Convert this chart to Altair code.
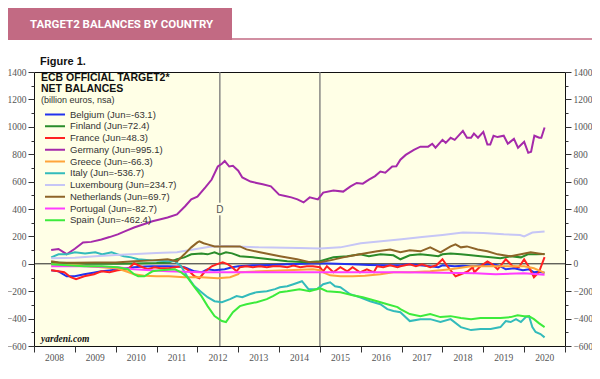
import altair as alt
import pandas as pd

COUNTRIES = ["Belgium", "Finland", "France", "Germany", "Greece", "Italy",
             "Luxembourg", "Netherlands", "Portugal", "Spain"]
LATEST = [-63.1, 72.4, 48.3, 995.1, -66.3, -536.7, 234.7, 69.7, -82.7, -462.4]
COLORS = ["#2233EE", "#2A8C2A", "#FF2222", "#A52AAA", "#FFA53A", "#33BBBB",
          "#C6C6F6", "#8E6428", "#FF3CFF", "#3CEB3C"]

BELGIUM = [(2008.42, -47), (2008.6, -55), (2008.8, -91), (2009.0, -90), (2009.23, -76), (2009.45, -65),
           (2009.65, -55), (2009.85, -48), (2010.05, -40), (2010.25, -32), (2010.45, -25), (2010.7, -20),
           (2010.9, -18), (2011.27, -18), (2011.5, -20), (2011.68, -25), (2011.8, -40), (2011.93, -55),
           (2012.1, -62), (2012.25, -40), (2012.42, -47), (2012.67, -40), (2012.85, -25), (2013.0, -18),
           (2013.36, -11), (2013.8, -8), (2014.2, -4), (2014.6, 0), (2015.0, 4), (2015.4, 0), (2015.8, -4),
           (2016.2, -8), (2016.65, -11), (2017.0, -8), (2017.2, -4), (2017.45, -10), (2017.7, -18),
           (2017.9, -25), (2018.0, -11), (2018.3, -18), (2018.5, -15), (2018.77, -18), (2018.95, -11),
           (2019.25, -4), (2019.42, -18), (2019.55, -40), (2019.75, -33), (2019.97, -47), (2020.12, -40),
           (2020.24, -62), (2020.35, -58), (2020.5, -66)]
FINLAND = [(2008.42, 11), (2008.8, 5), (2009.2, 0), (2009.6, 2), (2010.0, 0), (2010.5, 3), (2011.0, 5),
           (2011.3, 10), (2011.5, 33), (2011.68, 47), (2011.85, 69), (2012.1, 76), (2012.25, 69),
           (2012.42, 84), (2012.55, 69), (2012.7, 84), (2012.85, 76), (2013.04, 55), (2013.36, 47),
           (2013.77, 33), (2014.2, 18), (2014.68, 11), (2015.0, 18), (2015.33, 47), (2015.67, 55),
           (2015.98, 69), (2016.2, 55), (2016.48, 69), (2016.8, 62), (2016.97, 33), (2017.2, 62),
           (2017.46, 69), (2017.7, 62), (2017.9, 55), (2018.0, 69), (2018.2, 76), (2018.45, 69),
           (2018.7, 62), (2018.93, 55), (2019.18, 47), (2019.42, 40), (2019.67, 55), (2019.92, 47),
           (2020.09, 69), (2020.3, 69), (2020.5, 72)]
FRANCE = [(2008.42, -47), (2008.6, -55), (2008.74, -62), (2008.9, -98), (2009.03, -113), (2009.23, -91),
          (2009.47, -76), (2009.65, -55), (2009.85, -62), (2010.05, -47), (2010.3, -40), (2010.45, 4),
          (2010.6, -18), (2010.78, -40), (2010.95, -25), (2011.1, -33), (2011.3, -33), (2011.45, -25),
          (2011.6, -18), (2011.75, -40), (2011.93, -91), (2012.05, -105), (2012.17, -62), (2012.35, -18),
          (2012.47, -4), (2012.62, 11), (2012.75, -4), (2012.85, -25), (2012.96, -55), (2013.04, -25),
          (2013.2, -18), (2013.36, -25), (2013.53, -18), (2013.7, -25), (2013.85, -18), (2014.02, -18),
          (2014.2, -25), (2014.35, -12), (2014.52, -25), (2014.68, -18), (2014.83, -18), (2015.0, -25),
          (2015.08, -55), (2015.17, -18), (2015.33, -62), (2015.5, -25), (2015.67, -55), (2015.8, -25),
          (2015.98, -62), (2016.15, -40), (2016.32, -62), (2016.4, -18), (2016.55, -25), (2016.72, -11),
          (2016.9, -25), (2016.97, -18), (2017.2, -4), (2017.35, -18), (2017.5, -4), (2017.7, -25),
          (2017.85, -11), (2018.0, 33), (2018.12, -18), (2018.32, -91), (2018.45, -76), (2018.62, -55),
          (2018.74, -25), (2018.78, -62), (2018.93, -18), (2019.1, 18), (2019.22, -4), (2019.35, -40),
          (2019.55, 33), (2019.72, -18), (2019.87, -25), (2020.0, 33), (2020.12, -25), (2020.24, -98),
          (2020.36, -62), (2020.5, 48)]
GERMANY = [(2008.42, 100), (2008.6, 108), (2008.8, 70), (2009.0, 110), (2009.2, 155), (2009.4, 160),
           (2009.65, 178), (2009.85, 195), (2010.05, 215), (2010.25, 240), (2010.45, 265), (2010.65, 285),
           (2010.9, 310), (2011.1, 325), (2011.27, 338), (2011.5, 360), (2011.7, 420), (2011.85, 470),
           (2012.0, 490), (2012.2, 560), (2012.35, 615), (2012.5, 710), (2012.6, 730), (2012.67, 750),
           (2012.78, 710), (2012.87, 715), (2013.0, 680), (2013.1, 630), (2013.3, 600), (2013.45, 590),
           (2013.6, 580), (2013.8, 565), (2014.0, 505), (2014.15, 495), (2014.3, 485), (2014.45, 470),
           (2014.6, 448), (2014.75, 485), (2014.95, 470), (2015.08, 520), (2015.33, 535), (2015.57, 527),
           (2015.75, 565), (2015.9, 590), (2016.05, 585), (2016.2, 615), (2016.35, 640), (2016.48, 673),
           (2016.6, 665), (2016.77, 710), (2016.87, 712), (2016.97, 760), (2017.1, 795), (2017.3, 832),
           (2017.46, 855), (2017.65, 855), (2017.75, 876), (2017.83, 848), (2018.0, 905), (2018.08, 883),
           (2018.2, 920), (2018.3, 905), (2018.5, 970), (2018.6, 920), (2018.7, 920), (2018.77, 950),
           (2018.87, 920), (2019.0, 963), (2019.1, 870), (2019.17, 870), (2019.25, 935), (2019.35, 925),
           (2019.5, 935), (2019.6, 876), (2019.75, 912), (2019.85, 847), (2020.0, 890), (2020.1, 810),
           (2020.17, 818), (2020.25, 935), (2020.37, 920), (2020.42, 920), (2020.5, 995)]
GREECE = [(2008.42, -4), (2008.8, -8), (2009.2, -15), (2009.5, -22), (2009.8, -28), (2010.05, -35),
          (2010.3, -60), (2010.45, -76), (2010.7, -88), (2011.0, -90), (2011.3, -91), (2011.68, -98),
          (2012.1, -98), (2012.5, -105), (2012.8, -98), (2013.0, -75), (2013.04, -62), (2013.53, -55),
          (2014.2, -47), (2014.83, -40), (2015.0, -47), (2015.08, -62), (2015.25, -84), (2015.5, -91),
          (2015.8, -91), (2016.1, -88), (2016.48, -76), (2016.8, -62), (2017.2, -62), (2017.7, -55),
          (2018.2, -40), (2018.7, -18), (2019.18, -18), (2019.67, -18), (2020.0, -18), (2020.24, -33),
          (2020.5, -66)]
ITALY = [(2008.42, 47), (2008.6, 69), (2008.8, 69), (2009.0, 84), (2009.25, 76), (2009.5, 84), (2009.68, 69),
         (2009.9, 84), (2010.05, 69), (2010.2, 55), (2010.38, 47), (2010.55, 33), (2010.9, 25), (2011.27, 18),
         (2011.45, 18), (2011.6, -18), (2011.75, -91), (2011.93, -164), (2012.1, -207), (2012.25, -244),
         (2012.42, -273), (2012.6, -280), (2012.8, -258), (2012.96, -236), (2013.1, -244), (2013.28, -222),
         (2013.45, -207), (2013.7, -200), (2013.9, -185), (2014.02, -171), (2014.2, -164), (2014.35, -149),
         (2014.56, -127), (2014.72, -185), (2014.93, -185), (2015.08, -149), (2015.25, -135), (2015.37, -164),
         (2015.5, -171), (2015.74, -222), (2015.98, -244), (2016.23, -273), (2016.48, -295), (2016.65, -331),
         (2016.8, -345), (2016.97, -353), (2017.2, -418), (2017.46, -404), (2017.7, -404), (2017.95, -425),
         (2018.2, -404), (2018.45, -462), (2018.7, -484), (2018.93, -476), (2019.18, -476), (2019.42, -462),
         (2019.55, -418), (2019.67, -425), (2019.8, -404), (2019.92, -425), (2020.04, -389), (2020.12, -382),
         (2020.2, -462), (2020.28, -498), (2020.4, -513), (2020.5, -537)]
LUXEMBOURG = [(2008.42, 40), (2009.0, 45), (2009.5, 55), (2010.0, 65), (2010.5, 72), (2011.0, 78),
              (2011.5, 85), (2011.9, 105), (2012.3, 125), (2012.7, 130), (2013.5, 120), (2014.5, 115),
              (2015.0, 112), (2015.5, 120), (2016.0, 150), (2016.5, 165), (2017.0, 180), (2017.5, 195),
              (2018.0, 210), (2018.5, 228), (2019.0, 225), (2019.5, 215), (2019.9, 210), (2020.0, 200),
              (2020.2, 228), (2020.5, 235)]
NETHERLANDS = [(2008.42, 18), (2008.6, 10), (2009.0, 8), (2009.5, 10), (2010.0, 10), (2010.45, 18),
               (2010.9, 25), (2011.27, 33), (2011.5, 18), (2011.68, 69), (2011.85, 120), (2012.0, 156),
               (2012.05, 164), (2012.15, 150), (2012.25, 142), (2012.42, 127), (2012.55, 127), (2013.04, 127),
               (2013.2, 105), (2013.53, 84), (2014.02, 55), (2014.44, 33), (2014.75, 11), (2015.0, 11),
               (2015.25, 25), (2015.57, 47), (2015.98, 69), (2016.4, 91), (2016.72, 105), (2016.97, 84),
               (2017.2, 98), (2017.46, 91), (2017.7, 120), (2017.95, 84), (2018.2, 127), (2018.32, 142),
               (2018.45, 120), (2018.6, 127), (2018.86, 105), (2019.1, 91), (2019.35, 69), (2019.67, 55),
               (2019.92, 69), (2020.16, 84), (2020.35, 76), (2020.5, 70)]
PORTUGAL = [(2008.42, -18), (2009.2, -18), (2010.05, -25), (2010.45, -40), (2011.27, -55), (2012.1, -62),
            (2013.0, -62), (2014.0, -62), (2015.0, -62), (2016.0, -62), (2017.0, -62), (2018.0, -66),
            (2018.8, -69), (2019.3, -76), (2020.0, -69), (2020.5, -80)]
SPAIN = [(2008.42, -4), (2008.8, -11), (2009.23, -18), (2009.65, -18), (2010.05, -25), (2010.3, -40),
         (2010.45, -76), (2010.55, -91), (2010.7, -91), (2010.9, -55), (2011.1, -47), (2011.45, -40),
         (2011.6, -62), (2011.75, -98), (2011.93, -171), (2012.1, -236), (2012.25, -309), (2012.42, -382),
         (2012.6, -418), (2012.7, -425), (2012.87, -353), (2013.04, -309), (2013.2, -295), (2013.45, -280),
         (2013.7, -258), (2013.85, -236), (2014.02, -207), (2014.2, -200), (2014.5, -185), (2014.75, -200),
         (2015.0, -178), (2015.17, -200), (2015.5, -207), (2015.8, -229), (2016.05, -244), (2016.4, -273),
         (2016.65, -295), (2016.9, -316), (2016.97, -331), (2017.2, -367), (2017.46, -382), (2017.7, -367),
         (2017.95, -389), (2018.2, -382), (2018.45, -396), (2018.7, -404), (2018.93, -396), (2019.18, -396),
         (2019.42, -396), (2019.67, -389), (2019.84, -375), (2020.0, -382), (2020.12, -382), (2020.24, -404),
         (2020.36, -433), (2020.5, -462)]

SERIES = [BELGIUM, FINLAND, FRANCE, GERMANY, GREECE, ITALY, LUXEMBOURG, NETHERLANDS, PORTUGAL, SPAIN]

EVENTS = [2012.55, 2015.0]
EVENT_LABELS = ["D", ""]
YEARS = list(range(2008, 2022))
Y_TICKS = list(range(-600, 1401, 100))

rows = []
for name, pts in zip(COUNTRIES, SERIES):
    for t, v in pts:
        rows.append({"country": name, "t": t, "v": v})
df = pd.DataFrame(rows)

leg = pd.DataFrame({"country": COUNTRIES,
                    "label": [f"{c} (Jun={v})" for c, v in zip(COUNTRIES, LATEST)],
                    "idx": list(range(len(COUNTRIES)))})
ev = pd.DataFrame({"t": EVENTS, "label": EVENT_LABELS})

BG = "#FFFFE6"
PINK = "#C26A83"
xs = alt.Scale(domain=[2008, 2021], nice=False, zero=False)
ys = alt.Scale(domain=[-600, 1400], nice=False, zero=False)
color = alt.Color("country:N", scale=alt.Scale(domain=COUNTRIES, range=COLORS), legend=None)


def y_axis(orient):
    return alt.Axis(orient=orient, values=Y_TICKS, format="d",
                    labelExpr="datum.value % 200 === 0 ? datum.label : ''",
                    tickSize={"condition": {"test": "datum.value % 200 === 0", "value": 6}, "value": 3},
                    tickColor="#333", domain=False, grid=False, title=None,
                    labelFont="Liberation Serif", labelFontSize=9.5, labelColor="#555",
                    labelPadding=2)


x_axis = alt.Axis(values=YEARS, format="d",
                  labelExpr="datum.value < 2021 ? datum.label : ''",
                  labelOffset=20, labelFlush=False, labelOverlap=False,
                  tickSize=6, tickColor="#333", domain=False, grid=False, title=None,
                  labelFont="Liberation Serif", labelFontSize=9.5, labelColor="#555", labelPadding=0)

one = alt.Data(values=[{}])

banner = alt.Chart(one).mark_rect(color=PINK).encode(
    x=alt.value(-26), x2=alt.value(198), y=alt.value(-64), y2=alt.value(-32))
banner_line = alt.Chart(one).mark_rule(color=PINK, strokeWidth=1.5).encode(
    x=alt.value(198), x2=alt.value(558), y=alt.value(-33))
banner_text = alt.Chart(one).mark_text(text="TARGET2 BALANCES BY COUNTRY", font="Roboto", fontWeight="bold",
                                       fontSize=11.5, color="white", align="left", baseline="middle").encode(
    x=alt.value(-4), y=alt.value(-47.5))
fig_text = alt.Chart(one).mark_text(text="Figure 1.", font="Liberation Sans", fontWeight="bold",
                                    fontSize=11, color="#111", align="left", baseline="middle").encode(
    x=alt.value(6), y=alt.value(-10))

title1 = alt.Chart(one).mark_text(text="ECB OFFICIAL TARGET2*", font="Liberation Sans", fontWeight="bold",
                                  fontSize=10.5, color="#111", align="left", baseline="middle").encode(
    x=alt.value(7), y=alt.value(6))
title2 = alt.Chart(one).mark_text(text="NET BALANCES", font="Liberation Sans", fontWeight="bold",
                                  fontSize=10.5, color="#111", align="left", baseline="middle").encode(
    x=alt.value(7), y=alt.value(17))
title3 = alt.Chart(one).mark_text(text="(billion euros, nsa)", font="Liberation Sans",
                                  fontSize=9, color="#333", align="left", baseline="middle").encode(
    x=alt.value(7), y=alt.value(28))

yardeni = alt.Chart(one).mark_text(text="yardeni.com", font="Liberation Serif", fontWeight="bold",
                                   fontStyle="italic", fontSize=9.5, color="#111", align="left",
                                   baseline="middle").encode(x=alt.value(7), y=alt.value(267))

zero = alt.Chart(one).mark_rule(color="#222", strokeWidth=1).encode(
    y=alt.Y(datum=0, scale=ys, axis=y_axis("right")))

events = alt.Chart(ev).mark_rule(color="#777", strokeWidth=1.3).encode(
    x=alt.X("t:Q", scale=xs), y=alt.value(0), y2=alt.value(274))
ev_bg = alt.Chart(ev).transform_filter("datum.label != ''").mark_square(
    size=160, color=BG, opacity=1, filled=True).encode(x=alt.X("t:Q", scale=xs), y=alt.value(137))
ev_text = alt.Chart(ev).mark_text(font="Liberation Sans", fontSize=10, color="#555",
                                  baseline="middle").encode(
    x=alt.X("t:Q", scale=xs), y=alt.value(137.5), text="label:N")

lines = alt.Chart(df).mark_line(strokeWidth=2).encode(
    x=alt.X("t:Q", scale=xs, axis=x_axis),
    y=alt.Y("v:Q", scale=ys, axis=y_axis("left")),
    color=color,
    order=alt.Order("t:Q"),
    detail="country:N")

leg_base = alt.Chart(leg).transform_calculate(py="42.5 + datum.idx * 11.75")
leg_sym = leg_base.mark_rule(strokeWidth=2).encode(
    x=alt.value(11), x2=alt.value(31), y=alt.Y("py:Q", scale=None), color=color)
leg_txt = leg_base.mark_text(font="Liberation Sans", fontSize=9.5, color="#333", align="left",
                             baseline="middle").encode(
    x=alt.value(36), y=alt.Y("py:Q", scale=None), text="label:N")

chart = alt.layer(
    banner, banner_line, banner_text, fig_text,
    events, ev_bg, ev_text, zero, lines,
    title1, title2, title3, leg_sym, leg_txt, yardeni
).properties(
    width=531, height=274,
    padding={"left": 26, "top": 64, "right": 27, "bottom": 25},
    autosize=alt.AutoSizeParams(type="none"),
    background="white"
).configure_view(stroke="#111", strokeWidth=1, fill=BG)

chart.save("out.html", embed_options={"renderer": "svg", "actions": False})
